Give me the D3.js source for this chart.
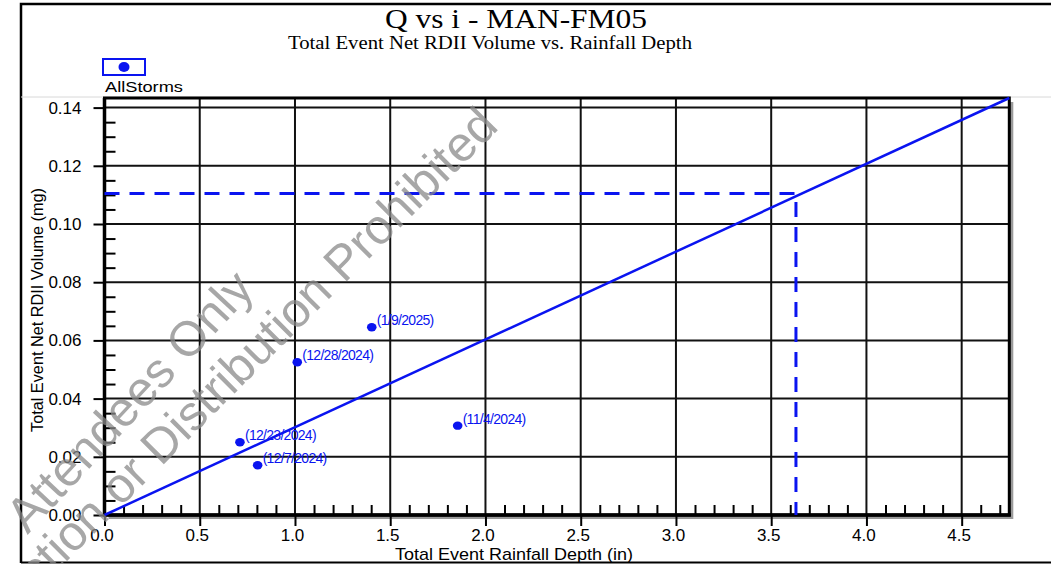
<!DOCTYPE html>
<html>
<head>
<meta charset="utf-8">
<script src="https://cdn.jsdelivr.net/npm/d3@7"></script>
<style>
  html, body { margin: 0; padding: 0; background: #fff; }
  svg { display: block; }
</style>
</head>
<body>
<svg id="chart" width="1051" height="564"></svg>
<script>
// ---- data ----
const titleText = "Q vs i - MAN-FM05";
const subtitleText = "Total Event Net RDII Volume vs. Rainfall Depth";
const xAxisTitle = "Total Event Rainfall Depth (in)";
const yAxisTitle = "Total Event Net RDII Volume (mg)";
const legendLabel = "AllStorms";

const xTicks = [0.0, 0.5, 1.0, 1.5, 2.0, 2.5, 3.0, 3.5, 4.0, 4.5];
const yTicks = [0.00, 0.02, 0.04, 0.06, 0.08, 0.10, 0.12, 0.14];
const xMinorTicks = [0.1,0.2,0.3,0.4,0.6,0.7,0.8,0.9,1.1,1.2,1.3,1.4,1.6,1.7,1.8,1.9,2.1,2.2,2.3,2.4,2.6,2.7,2.8,2.9,3.1,3.2,3.3,3.4,3.6,3.7,3.8,3.9,4.1,4.2,4.3,4.4,4.6,4.7];
const yMinorTicks = [0.005,0.010,0.015,0.025,0.030,0.035,0.045,0.050,0.055,0.065,0.070,0.075,0.085,0.090,0.095,0.105,0.110,0.115,0.125,0.130,0.135];

const stormLabels = ["(1/9/2025)", "(12/28/2024)", "(12/23/2024)", "(12/7/2024)", "(11/4/2024)"];
const stormRain   = [1.403, 1.012, 0.711, 0.804, 1.854];
const stormVolume = [0.0645, 0.0525, 0.0250, 0.0171, 0.0307];

const fitLine = [[0, 0], [4.75, 0.1433]];
const designLine = [[0, 0.1105], [3.63, 0.1105], [3.63, 0]];

const watermarkLines = ["Attendees Only", "ction or Distribution Prohibited"];

// ---- layout ----
const svg = d3.select("#chart");
const W = 1051, H = 564;
const blue = "#0a14f0";

const x = d3.scaleLinear().domain([0, 4.75]).range([104.5, 1009.3]);
const y = d3.scaleLinear().domain([0, 0.1433]).range([515, 98]);
const [x0, x1] = x.range();
const [y0, y1] = y.range();

// outer frame
svg.append("path").attr("d", `M21,563 L21,4 L${W},4`).attr("fill", "none").attr("stroke", "#000").attr("stroke-width", 2.5);
svg.append("line").attr("x1", 21).attr("x2", W).attr("y1", 562.5).attr("y2", 562.5).attr("stroke", "#000").attr("stroke-width", 2);
svg.append("line").attr("x1", 21).attr("x2", W).attr("y1", 97).attr("y2", 97).attr("stroke", "#d8d8d8").attr("stroke-width", 1);

// titles
svg.append("text").attr("x", 516).attr("y", 28).attr("text-anchor", "middle")
  .attr("font-family", "Liberation Serif, Times New Roman, serif").attr("font-size", 27)
  .attr("textLength", 262).attr("lengthAdjust", "spacingAndGlyphs").text(titleText);
svg.append("text").attr("x", 490).attr("y", 48.5).attr("text-anchor", "middle")
  .attr("font-family", "Liberation Serif, Times New Roman, serif").attr("font-size", 18.5)
  .attr("textLength", 404).attr("lengthAdjust", "spacingAndGlyphs").text(subtitleText);

// legend
svg.append("rect").attr("x", 103).attr("y", 59).attr("width", 42).attr("height", 16)
  .attr("fill", "#fff").attr("stroke", blue).attr("stroke-width", 2);
svg.append("ellipse").attr("cx", 124).attr("cy", 67).attr("rx", 5.5).attr("ry", 5).attr("fill", blue);
svg.append("text").attr("x", 105).attr("y", 91.5).attr("font-family", "Liberation Sans, Arial, sans-serif")
  .attr("font-size", 15).attr("textLength", 78).attr("lengthAdjust", "spacingAndGlyphs").text(legendLabel);

// plot shadow + area
svg.append("rect").attr("x", x0 + 4).attr("y", y1 + 4).attr("width", x1 - x0).attr("height", y0 - y1).attr("fill", "#9a9a9a");
svg.append("rect").attr("x", x0).attr("y", y1).attr("width", x1 - x0).attr("height", y0 - y1).attr("fill", "#fff");

// gridlines
const grid = svg.append("g").attr("stroke", "#111").attr("stroke-width", 2);
grid.selectAll("line.gx").data(xTicks.filter(d => d > 0)).join("line").attr("class", "gx")
  .attr("x1", d => x(d)).attr("x2", d => x(d)).attr("y1", y1).attr("y2", y0);
grid.selectAll("line.gy").data(yTicks.filter(d => d > 0)).join("line").attr("class", "gy")
  .attr("x1", x0).attr("x2", x1).attr("y1", d => y(d)).attr("y2", d => y(d));

// plot border
svg.append("rect").attr("x", x0).attr("y", y1).attr("width", x1 - x0).attr("height", y0 - y1)
  .attr("fill", "none").attr("stroke", "#000").attr("stroke-width", 3);

// axes
const tickFont = "Liberation Sans, Arial, sans-serif";
const yAxis = svg.append("g").attr("transform", `translate(${x0},0)`)
  .call(d3.axisLeft(y).tickValues(yTicks).tickFormat(d3.format(".2f")).tickSize(11).tickPadding(12));
yAxis.select(".domain").remove();
yAxis.selectAll(".tick line").attr("stroke", "#000").attr("stroke-width", 2);
yAxis.selectAll(".tick text").attr("font-family", tickFont).attr("font-size", 17).attr("fill", "#000");

const yMinor = svg.append("g").attr("transform", `translate(${x0},0)`)
  .call(d3.axisRight(y).tickValues(yMinorTicks).tickFormat("").tickSize(11));
yMinor.select(".domain").remove();
yMinor.selectAll(".tick line").attr("stroke", "#000").attr("stroke-width", 2);

const xAxis = svg.append("g").attr("transform", `translate(0,${y0})`)
  .call(d3.axisBottom(x).tickValues(xTicks).tickFormat(d3.format(".1f")).tickSize(11).tickPadding(3));
xAxis.select(".domain").remove();
xAxis.selectAll(".tick line").attr("stroke", "#000").attr("stroke-width", 2);
xAxis.selectAll(".tick text").attr("font-family", tickFont).attr("font-size", 17).attr("fill", "#000").attr("dx", -3);

const xMinor = svg.append("g").attr("transform", `translate(0,${y0})`)
  .call(d3.axisTop(x).tickValues(xMinorTicks).tickFormat("").tickSize(10));
xMinor.select(".domain").remove();
xMinor.selectAll(".tick line").attr("stroke", "#000").attr("stroke-width", 2);

// axis lines (thick)
svg.append("line").attr("x1", x0).attr("x2", x0).attr("y1", y1).attr("y2", y0 + 1.5).attr("stroke", "#000").attr("stroke-width", 3.5);
svg.append("line").attr("x1", x0).attr("x2", x1 + 1.5).attr("y1", y0).attr("y2", y0).attr("stroke", "#000").attr("stroke-width", 3.5);

// axis titles
svg.append("text").attr("x", 514).attr("y", 560).attr("text-anchor", "middle")
  .attr("font-family", tickFont).attr("font-size", 17).attr("textLength", 238).attr("lengthAdjust", "spacingAndGlyphs").text(xAxisTitle);
svg.append("text").attr("transform", "translate(43,310) rotate(-90)").attr("text-anchor", "middle")
  .attr("font-family", tickFont).attr("font-size", 17).attr("textLength", 244).attr("lengthAdjust", "spacingAndGlyphs").text(yAxisTitle);

// fit line
const line = d3.line().x(d => x(d[0])).y(d => y(d[1]));
svg.append("path").attr("d", line(fitLine)).attr("fill", "none").attr("stroke", blue).attr("stroke-width", 2.5);
// design dashed line
svg.append("path").attr("d", line(designLine)).attr("fill", "none").attr("stroke", blue)
  .attr("stroke-width", 3).attr("stroke-dasharray", "15,10");

// points
const pts = stormLabels.map((l, i) => ({ label: l, xv: stormRain[i], yv: stormVolume[i] }));
svg.selectAll("ellipse.pt").data(pts).join("ellipse").attr("class", "pt")
  .attr("cx", d => x(d.xv)).attr("cy", d => y(d.yv)).attr("rx", 4.8).attr("ry", 4.2).attr("fill", blue);
svg.selectAll("text.pl").data(pts).join("text").attr("class", "pl")
  .attr("x", d => x(d.xv) + 5).attr("y", d => y(d.yv) - 2)
  .attr("font-family", tickFont).attr("font-size", 14).attr("letter-spacing", -0.7).attr("fill", blue)
  .text(d => d.label);

// watermark
const wm = svg.append("g").attr("fill", "#8a8a8a").attr("fill-opacity", 0.75)
  .attr("font-family", tickFont).attr("font-size", 49);
wm.append("text").attr("transform", "translate(256,290) rotate(-47)").attr("text-anchor", "end").text(watermarkLines[0]);
wm.append("text").attr("transform", "translate(500,128) rotate(-45)").attr("text-anchor", "end").text(watermarkLines[1]);
</script>
</body>
</html>
